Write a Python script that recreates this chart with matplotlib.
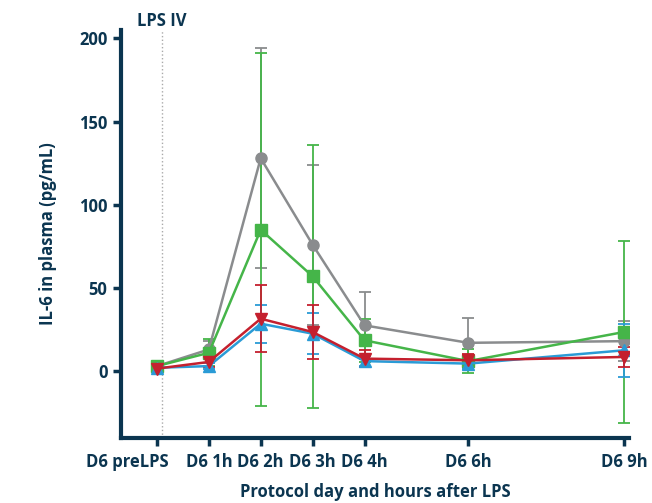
import matplotlib.pyplot as plt
import matplotlib.transforms as mtransforms
import numpy as np

# data
tick_labels = ['D6 preLPS', 'D6 1h', 'D6 2h', 'D6 3h', 'D6 4h', 'D6 6h', 'D6 9h']
hours = [0, 1, 2, 3, 4, 6, 9]

gray_mean = [3, 13, 128, 76, 27.5, 17, 18]
gray_err = [1, 5, 66, 48, 20, 15, 12]
green_mean = [3, 11, 85, 57, 18.5, 6, 23.5]
green_err = [1, 8, 106, 79, 13, 7, 55]
blue_mean = [2, 3, 28.5, 22.5, 6, 4.5, 12.5]
blue_err = [1, 2, 11.5, 12.5, 3, 3, 16]
red_mean = [1.5, 5.5, 31.5, 23.5, 7.5, 6.5, 8.5]
red_err = [1, 3, 20, 16, 5, 4, 6]

navy = '#0b3550'
plt.rcParams['font.family'] = ['Open Sans', 'DejaVu Sans']
plt.rcParams['font.weight'] = 'bold'

fig, ax = plt.subplots(figsize=(6.52, 5.03), dpi=100)
fig.subplots_adjust(left=0.185, right=0.965, bottom=0.13, top=0.94)

series = [
    (gray_mean, gray_err, '#8a8c8e', 'o', 8),
    (green_mean, green_err, '#45b549', 's', 8),
    (blue_mean, blue_err, '#2a9bd6', '^', 9),
    (red_mean, red_err, '#c4202e', 'v', 9),
]
for mean, err, col, mk, ms in series:
    ax.errorbar(hours, mean, yerr=err, color=col, marker=mk, markersize=ms,
                linewidth=1.8, elinewidth=1.3, capsize=4, capthick=1.3,
                ecolor=col, markeredgecolor=col)

# LPS injection marker
ax.axvline(0.1, color='#aaaaaa', linestyle=':', linewidth=1)
ax.text(0.1, 1.0, 'LPS IV', transform=ax.get_xaxis_transform(), ha='center',
        va='bottom', fontsize=12, color=navy, fontweight='bold')

ax.set_xlim(-0.7, 9.1)
ax.set_ylim(-40, 205)
ax.set_yticks([0, 50, 100, 150, 200])
ax.set_xticks(hours)
ax.set_xticklabels(tick_labels)

for s in ['top', 'right']:
    ax.spines[s].set_visible(False)
for s in ['left', 'bottom']:
    ax.spines[s].set_color(navy)
    ax.spines[s].set_linewidth(3)
ax.tick_params(axis='both', colors=navy, width=2.5, length=6, labelsize=12)
ax.tick_params(axis='x', pad=5)
for lab in ax.get_xticklabels() + ax.get_yticklabels():
    lab.set_fontweight('bold')
    lab.set_color(navy)

# shift the first tick label left so it doesn't collide with "D6 1h"
first = ax.get_xticklabels()[0]
first.set_transform(first.get_transform() +
                    mtransforms.ScaledTranslation(-0.3, 0, fig.dpi_scale_trans))

ax.set_xlabel('Protocol day and hours after LPS', fontsize=12, color=navy,
              fontweight='bold', labelpad=9)
ax.set_ylabel('IL-6 in plasma (pg/mL)', fontsize=12, color=navy,
              fontweight='bold', labelpad=16)

plt.savefig('out.png', dpi=100)
